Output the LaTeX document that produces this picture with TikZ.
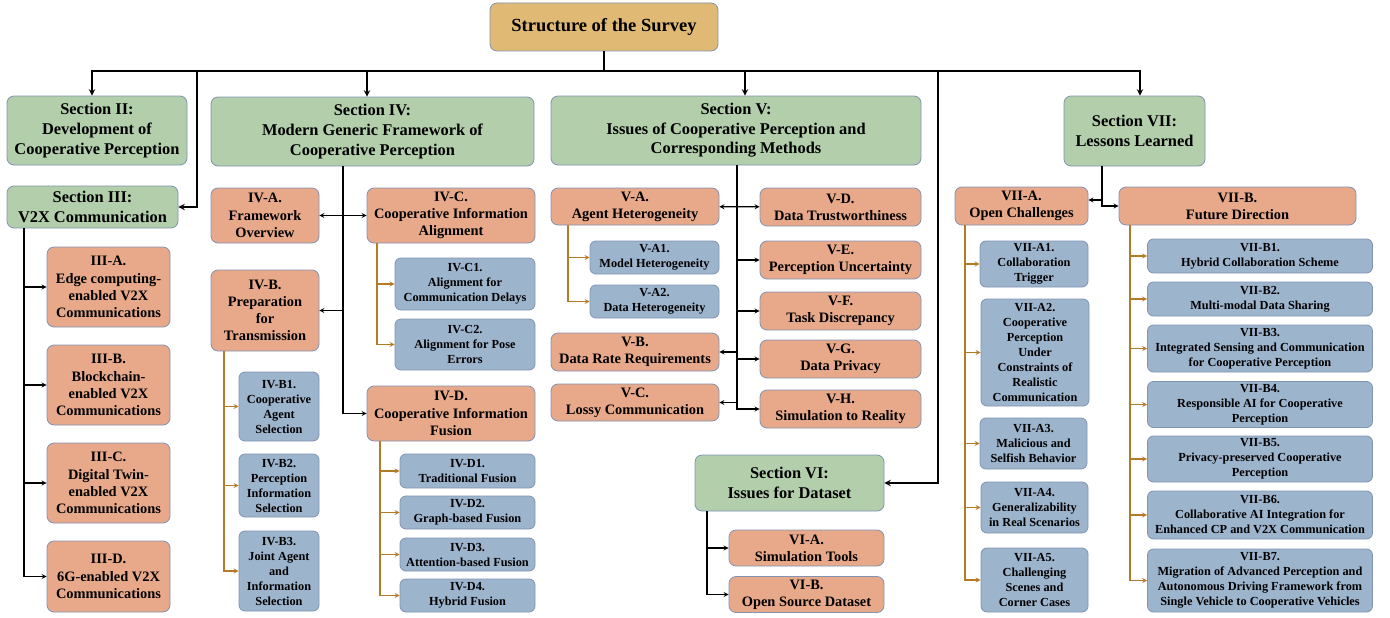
\documentclass[tikz,border=0pt]{standalone}
\usepackage{fontspec}
\setmainfont{Liberation Serif}
\definecolor{goldfill}{HTML}{E0BA74}
\definecolor{greenfill}{HTML}{B2CEAA}
\definecolor{orangefill}{HTML}{E8A98A}
\definecolor{bluefill}{HTML}{9DB4CD}
\definecolor{boxline}{HTML}{8093B3}
\definecolor{brownline}{HTML}{B47B26}
\begin{document}
\begin{tikzpicture}[x=1pt, y=-1pt,
        every node/.style={draw=boxline, line width=0.8pt, rounded corners=7pt, align=center, inner sep=1pt, font=\bfseries},
        rootbox/.style={fill=goldfill, font=\bfseries\fontsize{18.5}{22}\selectfont},
        secbox/.style={fill=greenfill, font=\bfseries\fontsize{16.4}{19.6}\selectfont},
        topicbox/.style={fill=orangefill, font=\bfseries\fontsize{14.4}{17.2}\selectfont},
        leafbox/.style={fill=bluefill, rounded corners=6pt, font=\bfseries\fontsize{12.3}{15}\selectfont},
        busline/.style={line width=1.8pt, -stealth},
        arrline/.style={line width=1.2pt, -stealth},
        biline/.style={line width=1.2pt, stealth-stealth},
        subline/.style={line width=1.2pt, brownline, -stealth}]
    \useasboundingbox (0,0) rectangle (1390,618);

    % top level
    \node[rootbox, minimum width=228pt, minimum height=48pt] (root) at (604,27) {Structure of the Survey};
    \node[secbox, minimum width=180pt, minimum height=69pt] (s2) at (97,130.5) {Section II:\\Development of\\Cooperative Perception};
    \node[secbox, minimum width=171pt, minimum height=42pt] (s3) at (92.5,207) {Section III:\\V2X Communication};
    \node[secbox, minimum width=323pt, minimum height=69pt] (s4) at (372.5,131.5) {Section IV:\\Modern Generic Framework of\\Cooperative Perception};
    \node[secbox, minimum width=370pt, minimum height=69pt] (s5) at (736,130.5) {Section V:\\Issues of Cooperative Perception and\\Corresponding Methods};
    \node[secbox, minimum width=189pt, minimum height=56pt] (s6) at (789.5,483) {Section VI:\\Issues for Dataset};
    \node[secbox, minimum width=141pt, minimum height=70pt] (s7) at (1134.5,131) {Section VII:\\Lessons Learned};

    % section III
    \node[topicbox, minimum width=123pt, minimum height=80pt] (s3a) at (108.5,287) {III-A.\\Edge computing-\\enabled V2X\\Communications};
    \node[topicbox, minimum width=123pt, minimum height=80pt] (s3b) at (108.5,385) {III-B.\\Blockchain-\\enabled V2X\\Communications};
    \node[topicbox, minimum width=123pt, minimum height=80pt] (s3c) at (108.5,483) {III-C.\\Digital Twin-\\enabled V2X\\Communications};
    \node[topicbox, minimum width=123pt, minimum height=71pt] (s3d) at (108.5,576.5) {III-D.\\6G-enabled V2X\\Communications};

    % section IV
    \node[topicbox, minimum width=108pt, minimum height=55pt] (s4a) at (265,215.5) {IV-A.\\Framework\\Overview};
    \node[topicbox, minimum width=108pt, minimum height=81pt] (s4b) at (265,310.5) {IV-B.\\Preparation\\for\\Transmission};
    \node[topicbox, minimum width=168pt, minimum height=55pt] (s4c) at (451,215.5) {IV-C.\\Cooperative Information\\Alignment};
    \node[topicbox, minimum width=168pt, minimum height=55pt] (s4d) at (451,413.5) {IV-D.\\Cooperative Information\\Fusion};
    \node[leafbox, minimum width=80pt, minimum height=69pt] (s4b1) at (279,406.5) {IV-B1.\\Cooperative\\Agent\\Selection};
    \node[leafbox, minimum width=80pt, minimum height=63pt] (s4b2) at (279,485.5) {IV-B2.\\Perception\\Information\\Selection};
    \node[leafbox, minimum width=80pt, minimum height=80pt] (s4b3) at (279,571) {IV-B3.\\Joint Agent\\and\\Information\\Selection};
    \node[leafbox, minimum width=140pt, minimum height=52pt] (s4c1) at (465,284) {IV-C1.\\Alignment for\\Communication Delays};
    \node[leafbox, minimum width=140pt, minimum height=51pt] (s4c2) at (465,344.5) {IV-C2.\\Alignment for Pose\\Errors};
    \node[leafbox, minimum width=135pt, minimum height=34pt] (s4d1) at (467.5,471) {IV-D1.\\Traditional Fusion};
    \node[leafbox, minimum width=135pt, minimum height=33pt] (s4d2) at (467.5,512.5) {IV-D2.\\Graph-based Fusion};
    \node[leafbox, minimum width=135pt, minimum height=33pt] (s4d3) at (467.5,554.5) {IV-D3.\\Attention-based Fusion};
    \node[leafbox, minimum width=135pt, minimum height=33pt] (s4d4) at (467.5,595.5) {IV-D4.\\Hybrid Fusion};

    % section V
    \node[topicbox, minimum width=168pt, minimum height=37pt] (s5a) at (635,206.5) {V-A.\\Agent Heterogeneity};
    \node[topicbox, minimum width=168pt, minimum height=38pt] (s5b) at (635,352) {V-B.\\Data Rate Requirements};
    \node[topicbox, minimum width=168pt, minimum height=37pt] (s5c) at (635,402.5) {V-C.\\Lossy Communication};
    \node[topicbox, minimum width=161pt, minimum height=38pt] (s5d) at (840.5,207) {V-D.\\Data Trustworthiness};
    \node[topicbox, minimum width=161pt, minimum height=38pt] (s5e) at (840.5,260) {V-E.\\Perception Uncertainty};
    \node[topicbox, minimum width=161pt, minimum height=38pt] (s5f) at (840.5,311) {V-F.\\Task Discrepancy};
    \node[topicbox, minimum width=161pt, minimum height=38pt] (s5g) at (840.5,359) {V-G.\\Data Privacy};
    \node[topicbox, minimum width=161pt, minimum height=38pt] (s5h) at (840.5,409) {V-H.\\Simulation to Reality};
    \node[leafbox, minimum width=129pt, minimum height=33pt] (s5a1) at (654.5,257.5) {V-A1.\\Model Heterogeneity};
    \node[leafbox, minimum width=129pt, minimum height=33pt] (s5a2) at (654.5,301.5) {V-A2.\\Data Heterogeneity};

    % section VI
    \node[topicbox, minimum width=155pt, minimum height=36pt] (s6a) at (806.5,548) {VI-A.\\Simulation Tools};
    \node[topicbox, minimum width=155pt, minimum height=36pt] (s6b) at (806.5,594.5) {VI-B.\\Open Source Dataset};

    % section VII
    \node[topicbox, minimum width=133pt, minimum height=38pt] (s7a) at (1021.5,206) {VII-A.\\Open Challenges};
    \node[topicbox, minimum width=237pt, minimum height=38pt] (s7b) at (1237.5,206) {VII-B.\\Future Direction};
    \node[leafbox, minimum width=108pt, minimum height=46pt] (s7a1) at (1034,264) {VII-A1.\\Collaboration\\Trigger};
    \node[leafbox, minimum width=108pt, minimum height=107pt] (s7a2) at (1035,352.5) {VII-A2.\\Cooperative\\Perception\\Under\\Constraints of\\Realistic\\Communication};
    \node[leafbox, minimum width=107pt, minimum height=51pt] (s7a3) at (1033.5,443.5) {VII-A3.\\Malicious and\\Selfish Behavior};
    \node[leafbox, minimum width=107pt, minimum height=51pt] (s7a4) at (1034.5,507.5) {VII-A4.\\Generalizability\\in Real Scenarios};
    \node[leafbox, minimum width=107pt, minimum height=64pt] (s7a5) at (1034.5,580) {VII-A5.\\Challenging\\Scenes and\\Corner Cases};
    \node[leafbox, minimum width=225pt, minimum height=34pt] (s7b1) at (1260,256) {VII-B1.\\Hybrid Collaboration Scheme};
    \node[leafbox, minimum width=225pt, minimum height=34pt] (s7b2) at (1260,299) {VII-B2.\\Multi-modal Data Sharing};
    \node[leafbox, minimum width=225pt, minimum height=47pt] (s7b3) at (1260,348.5) {VII-B3.\\Integrated Sensing and Communication\\for Cooperative Perception};
    \node[leafbox, minimum width=225pt, minimum height=46pt] (s7b4) at (1260,404.5) {VII-B4.\\Responsible AI for Cooperative\\Perception};
    \node[leafbox, minimum width=225pt, minimum height=46pt] (s7b5) at (1260,459) {VII-B5.\\Privacy-preserved Cooperative\\Perception};
    \node[leafbox, minimum width=225pt, minimum height=48pt] (s7b6) at (1260,515) {VII-B6.\\Collaborative AI Integration for\\Enhanced CP and V2X Communication};
    \node[leafbox, minimum width=225pt, minimum height=63pt] (s7b7) at (1260,580.5) {VII-B7.\\Migration of Advanced Perception and\\Autonomous Driving Framework from\\Single Vehicle to Cooperative Vehicles};

    % junctions
    \coordinate (bus) at (604,71);
    \coordinate (j3) at (197,207);
    \coordinate (j6) at (938,483);
    \coordinate (t3) at (24,228);
    \coordinate (t4) at (343,166);
    \coordinate (t4b) at (224,351);
    \coordinate (t4c) at (377,243);
    \coordinate (t4d) at (380,441);
    \coordinate (t5) at (737,165);
    \coordinate (t5a) at (568,225);
    \coordinate (t6) at (707,511);
    \coordinate (t7) at (1102,166);
    \coordinate (j7) at (1102,200);
    \coordinate (t7a) at (965,225);
    \coordinate (t7b) at (1130,225);

    % main bus
    \draw[line width=1.8pt] (root.south) -- (bus);
    \draw[busline] (bus) -| ([xshift=-5pt]s2.north);
    \draw[busline] (bus) -| ([xshift=-5.5pt]s4.north);
    \draw[busline] (bus) -| ([xshift=9pt]s5.north);
    \draw[busline] (bus) -| ([xshift=5.5pt]s7.north);
    \draw[busline] (bus) -| (j3) -- (s3.east);
    \draw[busline] (bus) -| (j6) -- (s6.east);

    % section III
    \foreach \n in {s3a,s3b,s3c,s3d}
        \draw[arrline] (t3) |- (\n.west);

    % section IV
    \draw[biline] (s4a) -- (s4c);
    \draw[arrline] (t4) |- (s4b.east);
    \draw[arrline] (t4) |- (s4d.west);
    \foreach \n in {s4b1,s4b2,s4b3}
        \draw[subline] (t4b) |- (\n.west);
    \foreach \n in {s4c1,s4c2}
        \draw[subline] (t4c) |- (\n.west);
    \foreach \n in {s4d1,s4d2,s4d3,s4d4}
        \draw[subline] (t4d) |- (\n.west);

    % section V
    \draw[biline] (s5a) -- (s5d);
    \foreach \n in {s5e,s5f,s5g,s5h}
        \draw[arrline] (t5) |- (\n.west);
    \foreach \n in {s5b,s5c}
        \draw[arrline] (t5) |- (\n.east);
    \foreach \n in {s5a1,s5a2}
        \draw[subline] (t5a) |- (\n.west);

    % section VI
    \foreach \n in {s6a,s6b}
        \draw[arrline] (t6) |- (\n.west);

    % section VII
    \draw[arrline] (t7) |- (s7b.west);
    \draw[arrline] (j7) -- (s7a.east |- j7);
    \foreach \n in {s7a1,s7a2,s7a3,s7a4,s7a5}
        \draw[subline] (t7a) |- (\n.west);
    \foreach \n in {s7b1,s7b2,s7b3,s7b4,s7b5,s7b6,s7b7}
        \draw[subline] (t7b) |- (\n.west);
\end{tikzpicture}
\end{document}
